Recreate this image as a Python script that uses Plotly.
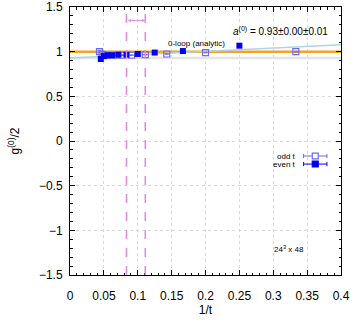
import plotly.graph_objects as go

# odd t data
t_odd = [23, 21, 19, 17, 15, 13, 11, 9, 7, 5, 3]
g_odd = [1.0, 0.97, 0.96, 0.96, 0.96, 0.96, 0.96, 0.966, 0.974, 0.99, 1.0]
err_odd = [0.015, 0.008, 0.006, 0.005, 0.004, 0.004, 0.003, 0.003, 0.003, 0.003, 0.003]

# even t data
t_even = [22, 20, 18, 16, 14, 12, 10, 8, 6, 4]
g_even = [0.918, 0.95, 0.96, 0.96, 0.966, 0.966, 0.974, 0.99, 1.007, 1.067]
err_even = [0.012, 0.007, 0.005, 0.004, 0.004, 0.003, 0.003, 0.003, 0.003, 0.003]

# fit result and window
a0 = 0.93
a0_stat = 0.00
a0_sys = 0.01
fit_slope = 0.37
fit_window_t = [12, 9]
analytic = 1.0

x_range = [0, 0.4]
y_range = [-1.5, 1.5]

inv_odd = [1.0 / t for t in t_odd]
inv_even = [1.0 / t for t in t_even]
fit_x = x_range
fit_y = [a0 + fit_slope * x for x in fit_x]

FONT = "Liberation Sans, Arial, sans-serif"

fig = go.Figure()

# a(0) band
fig.add_trace(go.Scatter(x=x_range, y=[a0, a0], mode="lines",
                         line=dict(color="#e4e4e4", width=2.5), hoverinfo="skip"))
# analytic 0-loop
fig.add_trace(go.Scatter(x=x_range, y=[analytic, analytic], mode="lines",
                         line=dict(color="#f2a424", width=2.5), hoverinfo="skip"))
# fit line
fig.add_trace(go.Scatter(x=fit_x, y=fit_y, mode="lines",
                         line=dict(color="#a8d8e4", width=1.5), hoverinfo="skip"))

fig.add_trace(go.Scatter(
    x=inv_odd, y=g_odd, mode="markers", name="odd t",
    error_y=dict(type="data", array=err_odd, color="#7070f0", thickness=1, width=2),
    marker=dict(symbol="square-open", size=6, color="#6a6af0", line=dict(width=1.2))))
fig.add_trace(go.Scatter(
    x=inv_even, y=g_even, mode="markers", name="even t",
    error_y=dict(type="data", array=err_even, color="#0000ee", thickness=1, width=2),
    marker=dict(symbol="square", size=6, color="#0000ee")))

# invisible trace to carry the mirrored top/right tick axes
fig.add_trace(go.Scatter(x=x_range, y=y_range, xaxis="x2", yaxis="y2", mode="markers",
                         marker=dict(opacity=0), hoverinfo="skip"))

shapes = []
# fit window dashed lines
for t in fit_window_t:
    shapes.append(dict(type="line", xref="x", yref="paper", x0=1.0 / t, x1=1.0 / t,
                       y0=0, y1=1, line=dict(color="#e488e4", width=1.5, dash="dash")))

# legend samples (gnuplot style: text then sample)
leg_y = [0.444, 0.414]
for i, ly in enumerate(leg_y):
    col = "#6a6af0" if i == 0 else "#0000ee"
    shapes.append(dict(type="line", xref="paper", yref="paper", x0=0.862, x1=0.948,
                       y0=ly, y1=ly, line=dict(color=col, width=1)))
    for xe in (0.862, 0.948):
        shapes.append(dict(type="line", xref="paper", yref="paper", x0=xe, x1=xe,
                           y0=ly - 0.008, y1=ly + 0.008, line=dict(color=col, width=1)))
    shapes.append(dict(type="rect", xref="paper", yref="paper",
                       x0=0.894, x1=0.916, y0=ly - 0.011, y1=ly + 0.011,
                       fillcolor="white" if i == 0 else col,
                       line=dict(color=col, width=1.2)))

annotations = [
    dict(x=1.0 / fit_window_t[1], y=1.35, ax=1.0 / fit_window_t[0], ay=1.35,
         xref="x", yref="y", axref="x", ayref="y", text="", showarrow=True,
         arrowhead=2, arrowside="end+start", arrowsize=0.6, arrowwidth=1,
         arrowcolor="#e488e4"),
    dict(x=0.187, y=1.097, xref="x", yref="y", text="0-loop (analytic)",
         showarrow=False, font=dict(size=8, color="black", family=FONT)),
    dict(x=0.96, y=0.94, xref="paper", yref="paper", xanchor="right",
         text="<i>a</i><sup>(0)</sup> = %.2f±%.2f±%.2f" % (a0, a0_stat, a0_sys),
         showarrow=False, font=dict(size=10, color="black", family=FONT)),
    dict(x=0.841, y=leg_y[0], xref="paper", yref="paper", xanchor="right",
         text="odd t", showarrow=False, font=dict(size=8, color="black", family=FONT)),
    dict(x=0.841, y=leg_y[1], xref="paper", yref="paper", xanchor="right",
         text="even t", showarrow=False, font=dict(size=8, color="black", family=FONT)),
    dict(x=0.87, y=0.071, xref="paper", yref="paper",
         text="24<sup>3</sup> x 48", showarrow=False,
         font=dict(size=8, color="black", family=FONT)),
]

axis_common = dict(showline=True, linecolor="black", linewidth=1, mirror=True,
                   ticks="inside", ticklen=5, tickcolor="black", zeroline=False,
                   automargin=False,
                   tickfont=dict(size=12, family=FONT, color="black"))

fig.update_layout(
    width=354, height=326,
    margin=dict(l=70, r=13, t=7, b=51),
    plot_bgcolor="white", paper_bgcolor="white",
    showlegend=False,
    shapes=shapes, annotations=annotations,
    xaxis=dict(range=x_range, dtick=0.05, tick0=0, ticklabelstandoff=10,
               showgrid=True, gridcolor="#dadada", griddash="dot", gridwidth=1,
               title=dict(text="1/t", font=dict(size=12, family=FONT, color="black"), standoff=0),
               minor=dict(ticks="inside", dtick=0.01, ticklen=2.5, tickcolor="black", showgrid=False),
               **axis_common),
    yaxis=dict(range=y_range, dtick=0.5, tick0=0, ticklabelstandoff=4,
               showgrid=True, gridcolor="#dadada", griddash="dot", gridwidth=1,
               title=dict(text="g<sup>(0)</sup>/2", font=dict(size=12, family=FONT, color="black"), standoff=16),
               minor=dict(ticks="inside", dtick=0.1, ticklen=2.5, tickcolor="black", showgrid=False),
               **axis_common),
    xaxis2=dict(range=x_range, dtick=0.05, tick0=0, overlaying="x", side="top",
                showticklabels=False, showgrid=False,
                ticks="inside", ticklen=5, tickcolor="black", zeroline=False,
                automargin=False,
                minor=dict(ticks="inside", dtick=0.01, ticklen=2.5, tickcolor="black", showgrid=False)),
    yaxis2=dict(range=y_range, dtick=0.5, tick0=0, overlaying="y", side="right",
                showticklabels=False, showgrid=False,
                ticks="inside", ticklen=5, tickcolor="black", zeroline=False,
                automargin=False,
                minor=dict(ticks="inside", dtick=0.1, ticklen=2.5, tickcolor="black", showgrid=False)),
)

# drop the browser's default 8px body margin so the figure sits at the page corner
fig.write_html("out.html", config={"displayModeBar": False},
               post_script="document.body.style.margin='0px';")
